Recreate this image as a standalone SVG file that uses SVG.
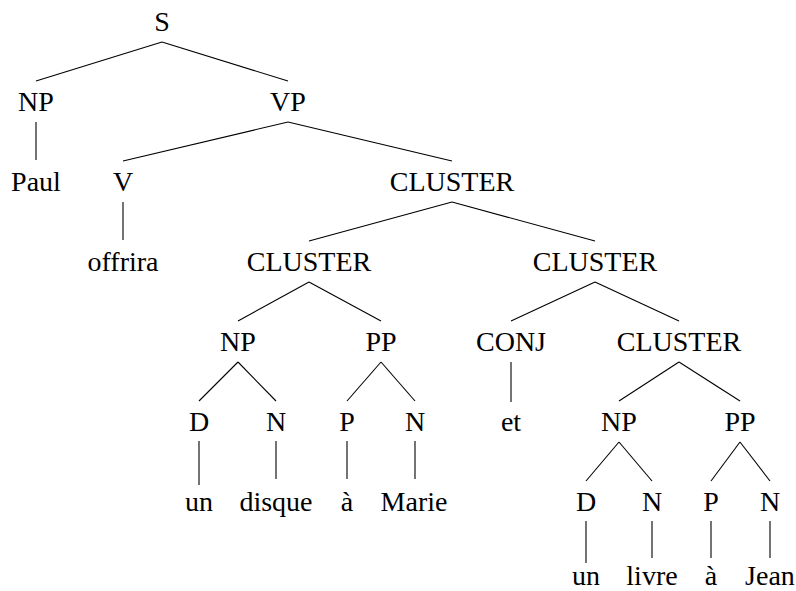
<svg xmlns="http://www.w3.org/2000/svg" width="796" height="591" viewBox="0 0 796 591">
<style>
.e line{stroke:#000;stroke-width:1.1}
text{font-family:"Liberation Serif","DejaVu Serif",serif;font-size:28px;fill:#000;text-anchor:middle}
</style>
<rect width="796" height="591" fill="#fff"/>
<g class="e" id="edges">
<line x1="162" y1="42" x2="36" y2="81"/>
<line x1="162" y1="42" x2="288" y2="81"/>
<line x1="36" y1="122" x2="36" y2="160"/>
<line x1="288" y1="122" x2="123" y2="161"/>
<line x1="288" y1="122" x2="452" y2="161"/>
<line x1="123" y1="202" x2="123" y2="240"/>
<line x1="452" y1="202" x2="309" y2="241"/>
<line x1="452" y1="202" x2="595" y2="241"/>
<line x1="309" y1="282" x2="238" y2="321"/>
<line x1="309" y1="282" x2="381" y2="321"/>
<line x1="595" y1="282" x2="511" y2="321"/>
<line x1="595" y1="282" x2="679" y2="321"/>
<line x1="238" y1="362" x2="199" y2="401"/>
<line x1="238" y1="362" x2="276" y2="401"/>
<line x1="381" y1="362" x2="347" y2="401"/>
<line x1="381" y1="362" x2="415" y2="401"/>
<line x1="511" y1="362" x2="511" y2="402"/>
<line x1="679" y1="362" x2="619" y2="401"/>
<line x1="679" y1="362" x2="740" y2="401"/>
<line x1="199" y1="441" x2="199" y2="485"/>
<line x1="276" y1="441" x2="276" y2="479"/>
<line x1="347" y1="441" x2="347" y2="479"/>
<line x1="415" y1="441" x2="415" y2="479"/>
<line x1="619" y1="442" x2="586" y2="481"/>
<line x1="619" y1="442" x2="652" y2="481"/>
<line x1="740" y1="442" x2="711" y2="481"/>
<line x1="740" y1="442" x2="770" y2="481"/>
<line x1="586" y1="521" x2="586" y2="563"/>
<line x1="652" y1="521" x2="652" y2="558"/>
<line x1="711" y1="521" x2="711" y2="558"/>
<line x1="770" y1="521" x2="770" y2="558"/>
</g>
<g id="n-S"><text x="162" y="31">S</text></g>
<g id="n-NP1"><text x="36" y="111">NP</text></g>
<g id="n-VP"><text x="288" y="111">VP</text></g>
<g id="n-Paul"><text x="36" y="191">Paul</text></g>
<g id="n-V"><text x="123" y="191">V</text></g>
<g id="n-CL1"><text x="452" y="191">CLUSTER</text></g>
<g id="n-offrira"><text x="123" y="271">offrira</text></g>
<g id="n-CL2"><text x="309" y="271">CLUSTER</text></g>
<g id="n-CL3"><text x="595" y="271">CLUSTER</text></g>
<g id="n-NP2"><text x="238" y="351">NP</text></g>
<g id="n-PP1"><text x="381" y="351">PP</text></g>
<g id="n-CONJ"><text x="511" y="351">CONJ</text></g>
<g id="n-CL4"><text x="679" y="351">CLUSTER</text></g>
<g id="n-D1"><text x="199" y="431">D</text></g>
<g id="n-N1"><text x="276" y="431">N</text></g>
<g id="n-P1"><text x="347" y="431">P</text></g>
<g id="n-N2"><text x="415" y="431">N</text></g>
<g id="n-et"><text x="511" y="431">et</text></g>
<g id="n-NP3"><text x="619" y="431">NP</text></g>
<g id="n-PP2"><text x="740" y="431">PP</text></g>
<g id="n-un1"><text x="199" y="511">un</text></g>
<g id="n-disque"><text x="276" y="511">disque</text></g>
<g id="n-a1"><text x="347" y="511">à</text></g>
<g id="n-Marie"><text x="414" y="511">Marie</text></g>
<g id="n-D2"><text x="586" y="511">D</text></g>
<g id="n-N3"><text x="652" y="511">N</text></g>
<g id="n-P2"><text x="711" y="511">P</text></g>
<g id="n-N4"><text x="770" y="511">N</text></g>
<g id="n-un2"><text x="586" y="585">un</text></g>
<g id="n-livre"><text x="652" y="585">livre</text></g>
<g id="n-a2"><text x="711" y="585">à</text></g>
<g id="n-Jean"><text x="770" y="585">Jean</text></g>
</svg>
